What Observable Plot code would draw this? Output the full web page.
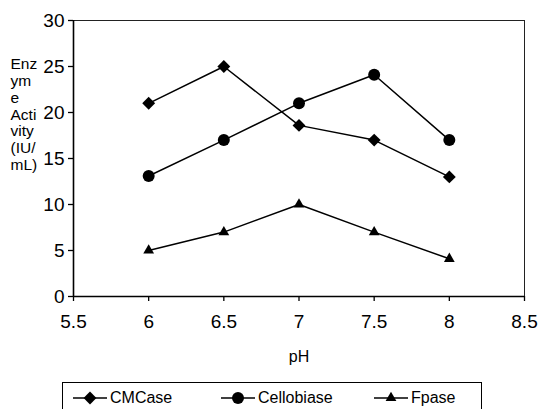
<!DOCTYPE html>
<html>
<head>
<meta charset="utf-8">
<script src="https://cdn.jsdelivr.net/npm/d3@7"></script>
<script src="https://cdn.jsdelivr.net/npm/@observablehq/plot@0.6"></script>
<style>
  html, body { margin: 0; padding: 0; background: #fff; overflow: hidden; width: 541px; height: 409px; }
  body { font-family: "Liberation Sans", Arial, sans-serif; }
  #chart svg { display: block; }
  #legend {
    position: relative;
    margin-left: 62px;
    width: 420px;
    height: 40px;
    margin-top: 10px;
    border: 1px solid #000;
    box-sizing: border-box;
    font-size: 16px;
    color: #000;
  }
  #legend .item { position: absolute; top: 5px; display: flex; align-items: center; height: 20px; }
  #legend svg { display: block; margin-right: 3px; }
</style>
</head>
<body>
<div id="chart"></div>
<div id="legend"></div>
<script>
const ph = [6, 6.5, 7, 7.5, 8];
const cmcase = [21, 25, 18.6, 17, 13];
const cellobiase = [13.1, 17, 21, 24.1, 17];
const fpase = [5, 7, 10, 7, 4.1];
const seriesNames = ["CMCase", "Cellobiase", "Fpase"];
const seriesSymbols = ["diamond2", "circle", "triangle"];
const xTicks = [5.5, 6, 6.5, 7, 7.5, 8, 8.5];
const yTicks = [0, 5, 10, 15, 20, 25, 30];
const yTitle = "Enz\nym\ne\nActi\nvity\n(IU/\nmL)";
const xTitle = "pH";

const seriesValues = [cmcase, cellobiase, fpase];
const rows = seriesNames.flatMap((name, i) =>
  ph.map((x, j) => ({series: name, symbol: seriesSymbols[i], ph: x, value: seriesValues[i][j]}))
);
const radius = {diamond2: 5.8, circle: 6, triangle: 4};

const plot = Plot.plot({
  width: 541,
  height: 372,
  marginLeft: 73,
  marginRight: 17,
  marginTop: 20,
  marginBottom: 76,
  style: {fontFamily: "'Liberation Sans', Arial, sans-serif", color: "#000", background: "#fff"},
  x: {domain: [5.5, 8.5]},
  y: {domain: [0, 30]},
  marks: [
    Plot.frame({stroke: "#222", strokeWidth: 1}),
    Plot.axisX({ticks: xTicks, tickFormat: d => String(d), tickSize: 5, tickPadding: 13, fontSize: 19, label: null, stroke: "#000", strokeWidth: 1.3}),
    Plot.axisY({ticks: yTicks, tickFormat: d => String(d), tickSize: 5, tickPadding: 4, fontSize: 19, label: null, stroke: "#000", strokeWidth: 1.3}),
    Plot.ruleX([5.5], {stroke: "#000", strokeWidth: 1.6}),
    Plot.ruleY([0], {stroke: "#000", strokeWidth: 1.6}),
    Plot.line(rows, {x: "ph", y: "value", z: "series", stroke: "#000", strokeWidth: 1.5}),
    ...seriesSymbols.map(s => Plot.dot(rows.filter(d => d.symbol === s), {x: "ph", y: "value", symbol: s, r: radius[s], fill: "#000", stroke: "none"})),
    Plot.text([xTitle], {frameAnchor: "bottom", dy: 65, fontSize: 16, fill: "#000"}),
    Plot.text([yTitle], {frameAnchor: "top-left", textAnchor: "start", lineAnchor: "top", dx: -63, dy: 37, fontSize: 15.5, lineHeight: 1.08, fill: "#000", fontFamily: "'Liberation Sans', Arial, sans-serif"})
  ]
});
document.getElementById("chart").appendChild(plot);

// legend
const legend = d3.select("#legend");
const itemLeft = [10, 158, 311];
seriesNames.forEach((name, i) => {
  const item = legend.append("div").attr("class", "item").style("left", itemLeft[i] + "px");
  const svg = item.append("svg").attr("width", 34).attr("height", 20);
  svg.append("line").attr("x1", 0).attr("x2", 34).attr("y1", 10).attr("y2", 10).attr("stroke", "#000").attr("stroke-width", 1.5);
  const sym = {diamond2: d3.symbolDiamond2, circle: d3.symbolCircle, triangle: d3.symbolTriangle}[seriesSymbols[i]];
  const r = radius[seriesSymbols[i]];
  svg.append("path").attr("transform", "translate(17,10)").attr("d", d3.symbol(sym, Math.PI * r * r)()).attr("fill", "#000");
  item.append("span").text(name);
});
</script>
</body>
</html>
